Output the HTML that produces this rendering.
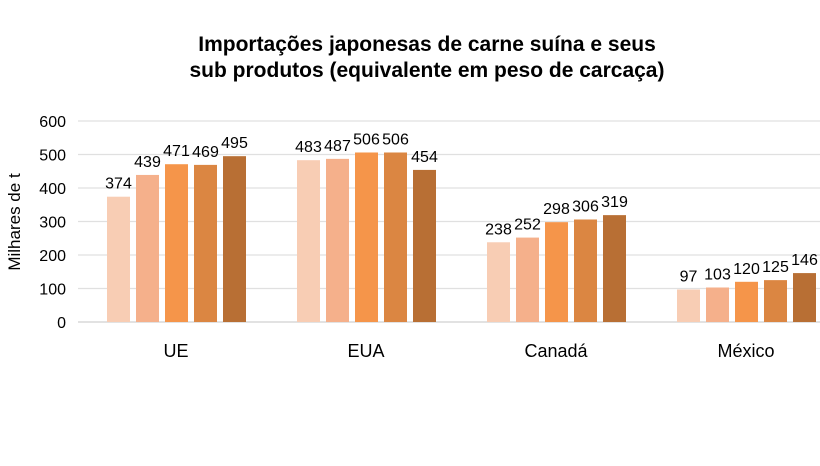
<!DOCTYPE html>
<html><head><meta charset="utf-8"><style>
body{margin:0;background:#fff;width:820px;height:461px;overflow:hidden;font-family:"Liberation Sans",sans-serif}
</style></head><body>
<svg width="820" height="461">
<text x="427" y="51" text-anchor="middle" font-size="21" font-weight="bold">Importações japonesas de carne suína e seus</text>
<text x="427" y="77" text-anchor="middle" font-size="21" font-weight="bold">sub produtos (equivalente em peso de carcaça)</text>
<text transform="translate(20,222) rotate(-90)" text-anchor="middle" font-size="17">Milhares de t</text>
<g id="grid"></g><g id="bars"></g>
</svg>
<script>
const categories=["UE","EUA","Canadá","México"];
const s1=[374,483,238,97];
const s2=[439,487,252,103];
const s3=[471,506,298,120];
const s4=[469,506,306,125];
const s5=[495,454,319,146];
const yTicks=[0,100,200,300,400,500,600];
const series=[s1,s2,s3,s4,s5];
const colors=["#f8cdb4","#f5b08b","#f5954a","#db8642","#b86f34"];
const NS="http://www.w3.org/2000/svg";
const y0=322,yTop=121,yMax=600;
function y(v){return y0-(v/yMax)*(y0-yTop);}
function gx(i){return 107+i*190;}
const grid=document.getElementById('grid'),bars=document.getElementById('bars');
yTicks.forEach(t=>{
 const l=document.createElementNS(NS,'line');
 
 
 l.setAttribute('x1',78);l.setAttribute('x2',820);l.setAttribute('y1',y(t));l.setAttribute('y2',y(t));
 l.setAttribute('stroke',t===0?'#d0d0d0':'#e0e0e0');l.setAttribute('stroke-width',1.3);grid.appendChild(l);
 const tx=document.createElementNS(NS,'text');
 
 
 tx.setAttribute('x',66);tx.setAttribute('y',y(t)+6);tx.setAttribute('text-anchor','end');tx.setAttribute('font-size','16');tx.textContent=t;grid.appendChild(tx);
});
categories.forEach((c,i)=>{
 series.forEach((s,j)=>{
  const x=gx(i)+j*29;
  const r=document.createElementNS(NS,'rect');
  
  
  r.setAttribute('x',x);r.setAttribute('width',23);r.setAttribute('y',y(s[i]));r.setAttribute('height',y0-y(s[i]));r.setAttribute('fill',colors[j]);bars.appendChild(r);
  const t=document.createElementNS(NS,'text');
  
  
  t.setAttribute('x',x+11.5);t.setAttribute('y',y(s[i])-8);t.setAttribute('text-anchor','middle');t.setAttribute('font-size','16');t.textContent=s[i];bars.appendChild(t);
 });
 const ct=document.createElementNS(NS,'text');
 
 
 ct.setAttribute('x',gx(i)+69);ct.setAttribute('y',357);ct.setAttribute('text-anchor','middle');ct.setAttribute('font-size','18');ct.textContent=c;bars.appendChild(ct);
});
</script>
</body></html>
